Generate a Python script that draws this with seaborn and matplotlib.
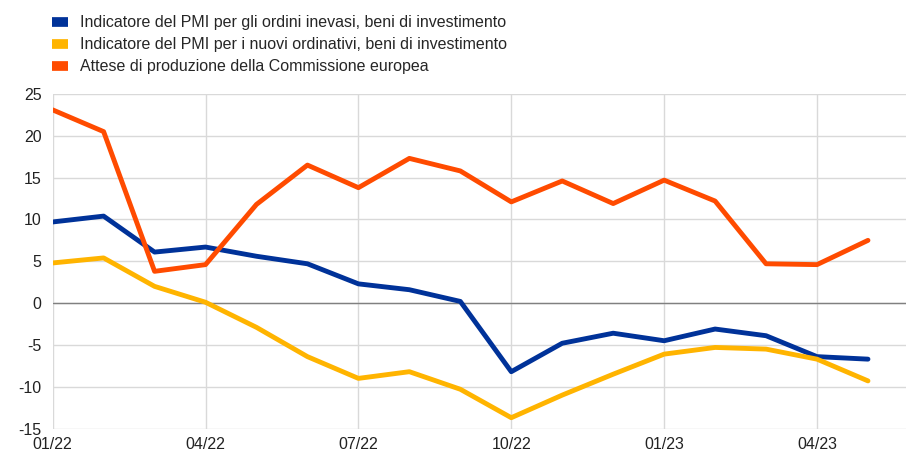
import pandas as pd
import seaborn as sns
import matplotlib.pyplot as plt

# Monthly data, 01/22 - 05/23
months = ["01/22", "02/22", "03/22", "04/22", "05/22", "06/22", "07/22", "08/22", "09/22",
          "10/22", "11/22", "12/22", "01/23", "02/23", "03/23", "04/23", "05/23"]

pmi_backlog = [9.7, 10.4, 6.1, 6.7, 5.6, 4.7, 2.3, 1.6, 0.2,
               -8.2, -4.8, -3.6, -4.5, -3.1, -3.9, -6.4, -6.7]
pmi_new_orders = [4.8, 5.4, 2.0, 0.1, -2.9, -6.4, -9.0, -8.2, -10.3,
                  -13.7, -11.0, -8.5, -6.1, -5.3, -5.5, -6.7, -9.3]
ec_production = [23.1, 20.5, 3.8, 4.6, 11.8, 16.5, 13.8, 17.3, 15.8,
                 12.1, 14.6, 11.9, 14.7, 12.2, 4.7, 4.6, 7.5]

labels = ["Indicatore del PMI per gli ordini inevasi, beni di investimento",
          "Indicatore del PMI per i nuovi ordinativi, beni di investimento",
          "Attese di produzione della Commissione europea"]
colors = ["#003299", "#FFB400", "#FF4B00"]
tick_labels = ["01/22", "04/22", "07/22", "10/22", "01/23", "04/23"]

# --- Long-form table ---
df = pd.DataFrame({"month": months, labels[0]: pmi_backlog,
                   labels[1]: pmi_new_orders, labels[2]: ec_production})
df["t"] = range(len(months))
long = df.melt(id_vars=["month", "t"], var_name="series", value_name="value")

sns.set_style("white")
plt.rcParams["font.family"] = ["Liberation Sans", "DejaVu Sans"]
plt.rcParams["axes.unicode_minus"] = False

fig, ax = plt.subplots(figsize=(9.08, 4.54), dpi=100)
fig.subplots_adjust(left=0.058, right=0.998, top=0.793, bottom=0.056)

sns.lineplot(data=long, x="t", y="value", hue="series", hue_order=labels,
             palette=colors, linewidth=3.5, ax=ax, legend=True)

ax.set_xlim(0, 16.75)
ax.set_ylim(-15, 25)
ax.set_yticks(range(-15, 30, 5))
ticks = [months.index(m) for m in tick_labels]
ax.set_xticks(ticks)
ax.set_xticklabels(tick_labels)
ax.set_xlabel("")
ax.set_ylabel("")

ax.grid(True, color="#d9d9d9", linewidth=1)
ax.set_axisbelow(True)
ax.axhline(0, color="#808080", linewidth=1, zorder=1)
for s in ax.spines.values():
    s.set_visible(False)
ax.tick_params(axis="both", length=0, labelsize=11.5, colors="#222222")
ax.tick_params(axis="x", pad=6)
ax.tick_params(axis="y", pad=8)

leg = ax.legend(loc="lower left", bbox_to_anchor=(-0.001, 1.06), frameon=False,
                fontsize=11.5, handlelength=1.0, handleheight=0.6, labelspacing=0.42,
                borderaxespad=0, borderpad=0, handletextpad=0.75)
for h in leg.get_lines():
    h.set_linewidth(7)
    h.set_solid_capstyle("butt")

plt.savefig("out.png", dpi=100)
